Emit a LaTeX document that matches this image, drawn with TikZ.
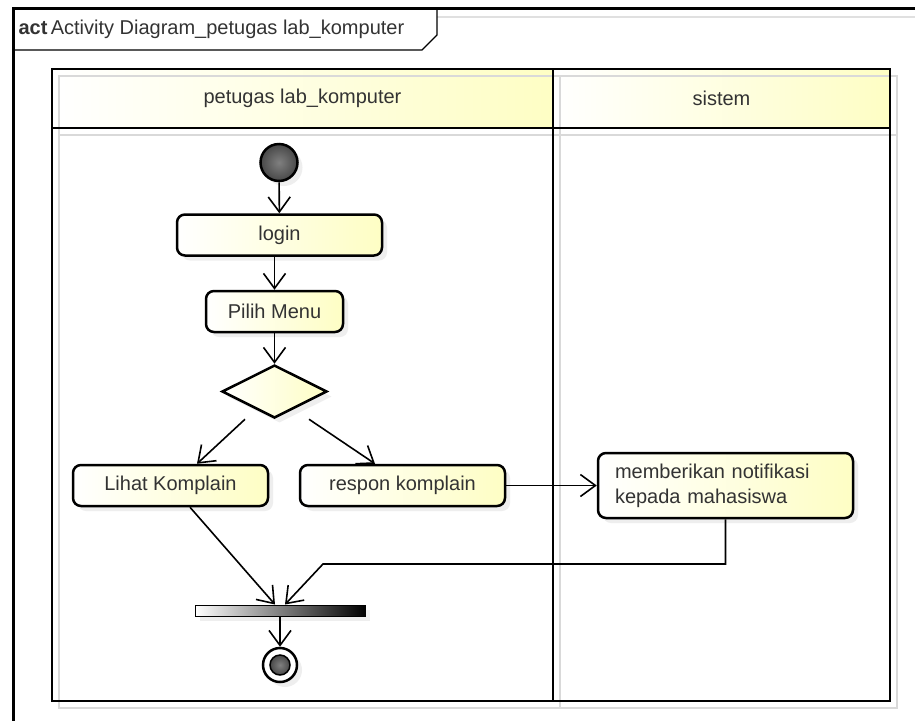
\documentclass[tikz,border=0pt]{standalone}
\usepackage{fontspec}
\setmainfont{Liberation Sans}
\usepackage{tikz}
\usetikzlibrary{arrows.meta,positioning,shapes.geometric,shadows}
\definecolor{umlfill}{HTML}{FEFEC4}
\definecolor{umltext}{HTML}{333333}
\tikzset{>={Straight Barb[length=15pt,width=22pt]},
         umlshadow/.style={drop shadow={shadow xshift=5pt,shadow yshift=-5pt,fill=black!13}},
         action/.style={draw, line width=2.5pt, rounded corners=8pt, umlshadow,
                        left color=white, right color=umlfill, text=umltext,
                        minimum height=41pt, inner sep=0pt},
         decision/.style={diamond, draw, line width=2.5pt, umlshadow,
                        left color=white, right color=umlfill,
                        minimum width=105pt, minimum height=53pt, inner sep=0pt},
         initial/.style={circle, draw, line width=2.5pt, umlshadow,
                        inner color=black!50, outer color=black!72, minimum size=37pt},
         stopring/.style={circle, draw, line width=2.5pt, fill=white, umlshadow,
                        minimum size=34pt},
         stopdot/.style={circle, draw, line width=1.5pt, inner color=black!50,
                        outer color=black!72, minimum size=20pt},
         joinbar/.style={rectangle, draw, line width=1pt, umlshadow,
                        left color=white, right color=black,
                        minimum width=170pt, minimum height=11pt, inner sep=0pt},
         flow/.style={->, line width=1.6pt}}

\begin{document}
\begin{tikzpicture}[x=1pt, y=-1pt, font=\fontsize{20}{26}\selectfont]
\useasboundingbox (0,0) rectangle (915,721);
\fill[white] (0,0) rectangle (915,721);

% frame and its name tab
\draw[black!12, line width=1.5pt] (437,17) -- (915,17);
\draw[line width=3pt] (915,8) -- (13,8) -- (13,721);
\draw[line width=1.3pt] (13,50) -- (422,50) -- (437,35) -- (437,8);
\node[anchor=west, text=umltext] (title) at (15,29)
  {\textbf{act}\,Activity Diagram\_petugas lab\_komputer};

% swimlanes
\fill[left color=white, right color=umlfill] (52,69) rectangle (553,128);
\fill[left color=white, right color=umlfill] (553,69) rectangle (890,128);
\draw[black!15, line width=2pt] (59,76) rectangle (897,708);
\draw[black!15, line width=2pt] (560,76) -- (560,708);
\draw[black!15, line width=2pt] (59,135) -- (897,135);
\draw[line width=2.5pt] (52,69) rectangle (890,701);
\draw[line width=2.5pt] (553,69) -- (553,701);
\draw[line width=2.5pt] (52,128) -- (890,128);
\node[text=umltext] (lane1) at (302.5,98.5) {petugas lab\_komputer};
\node[text=umltext] (lane2) at (721.5,98.5) {sistem};

% activities
\node[initial] (start) at (279,162.5) {};
\node[action, minimum width=205pt] (login) at (279.5,235) {login};
\node[action, minimum width=137pt] (menu) at (274.5,311.5) {Pilih Menu};
\node[decision] (dec) at (274.5,391.5) {};
\node[action, minimum width=195pt] (lihat) at (170.5,485.5) {Lihat Komplain};
\node[action, minimum width=205pt] (respon) at (402.5,485.5) {respon komplain};
\node[action, minimum height=65pt, text width=221pt, inner xsep=17pt,
      align=left, font=\fontsize{20}{25}\selectfont] (notif) at (725.5,485.5)
  {memberikan notifikasi\\kepada mahasiswa};
\node[joinbar] (bar) at (280,610.5) {};
\node[stopring] (stop) at (280,665) {};
\node[stopdot] (stopdot) at (stop) {};
\coordinate (back) at (323,564);

% control flows
\path[flow]
(start) edge (login)
(login.south -| menu.north) edge (menu)
(menu) edge (dec)
([xshift=-29.5pt]dec.south) edge ([xshift=26.5pt]lihat.north)
([xshift=34.5pt]dec.south) edge ([xshift=-27.5pt]respon.north)
(respon) edge (notif)
([xshift=19.5pt]lihat.south) edge ([xshift=-5pt]bar.north)
(bar) edge (stop);
\draw[flow] (notif.south) |- (back) -- ([xshift=5pt]bar.north);
\end{tikzpicture}
\end{document}
